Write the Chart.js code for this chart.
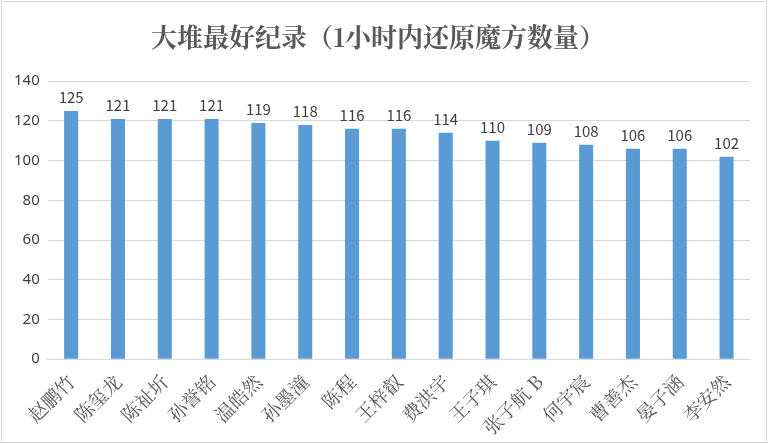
<!DOCTYPE html><html><head><meta charset="utf-8">
<script src="https://cdn.jsdelivr.net/npm/chart.js@4"></script>
<style>html,body{margin:0;padding:0;background:#fff}#w{position:absolute;left:1px;top:1px;width:764px;height:440px;border:1px solid #d9d9d9}</style></head><body>
<div id="w"><canvas id="c"></canvas></div>
<script>
const categories=["赵鹏竹","陈玺龙","陈祉圻","孙誉铭","温皓然","孙墨潼","陈程","王梓叡","费洪宇","王子琪","张子航 B","何宇宸","曹善杰","晏子涵","李安然"];
const values=[125,121,121,121,119,118,116,116,114,110,109,108,106,106,102];
const titleText="大堆最好纪录（1小时内还原魔方数量）";
const labelPlugin={id:'lbl',afterDatasetsDraw(ch){const ctx=ch.ctx;const m=ch.getDatasetMeta(0);ctx.save();ctx.font='15px "Noto Sans CJK SC"';ctx.fillStyle='#404040';ctx.textAlign='center';ctx.textBaseline='bottom';m.data.forEach((b,i)=>ctx.fillText(values[i],b.x,b.y-6));ctx.restore();}};
new Chart(document.getElementById('c'),{type:'bar',data:{labels:categories,datasets:[{data:values,backgroundColor:'#5b9bd5',barPercentage:0.6,categoryPercentage:0.5}]},
options:{responsive:true,maintainAspectRatio:false,animation:false,layout:{padding:{left:4,right:16,top:6,bottom:0}},
plugins:{legend:{display:false},tooltip:{enabled:false},title:{display:true,text:titleText,color:'#595959',font:{family:'"Noto Serif CJK SC","Noto Sans CJK SC"',size:26,weight:'bold'},padding:{top:14,bottom:28}}},
scales:{y:{min:0,max:140,ticks:{stepSize:20,color:'#404040',font:{size:15,family:'"Noto Sans","Liberation Sans"'},padding:8},grid:{color:'#d9d9d9',drawTicks:false},border:{display:false}},
x:{ticks:{color:'#595959',maxRotation:45,minRotation:45,autoSkip:false,font:{size:19,family:'"Noto Serif CJK SC","Noto Sans CJK SC"'}},grid:{display:false},border:{color:'#d9d9d9'}}}},plugins:[labelPlugin]});
</script></body></html>
